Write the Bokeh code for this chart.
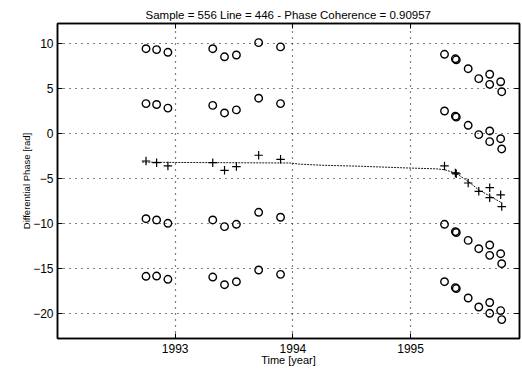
from bokeh.plotting import figure
from bokeh.models import LinearAxis, FixedTicker, Range1d, CustomJSTickFormatter
from bokeh.embed import file_html
from bokeh.resources import INLINE

# ---- data ----
dates = [1992.752, 1992.842, 1992.938, 1993.319, 1993.419, 1993.520, 1993.709, 1993.895,
         1995.288, 1995.380, 1995.388, 1995.489, 1995.579, 1995.672, 1995.672, 1995.765, 1995.774]

# unwrapped differential phase (plus markers)
phase = [-3.08, -3.26, -3.63, -3.26, -4.11, -3.70, -2.44, -2.89,
         -3.63, -4.40, -4.50, -5.52, -6.45, -6.04, -7.15, -6.84, -8.14]

# wrapped phase ambiguity rows (circle markers)
row_a = [9.40, 9.30, 9.00, 9.40, 8.50, 8.70, 10.07, 9.60,
         8.78, 8.28, 8.16, 7.18, 6.07, 6.56, 5.44, 5.73, 4.62]
row_b = [3.30, 3.20, 2.80, 3.10, 2.26, 2.60, 3.90, 3.30,
         2.48, 1.90, 1.80, 0.89, -0.15, 0.26, -0.93, -0.60, -1.74]
row_c = [-9.49, -9.63, -10.00, -9.63, -10.37, -10.11, -8.78, -9.33,
         -10.11, -10.92, -11.02, -11.90, -12.82, -12.41, -13.56, -13.38, -14.49]
row_d = [-15.89, -15.86, -16.22, -15.97, -16.82, -16.49, -15.19, -15.67,
         -16.49, -17.15, -17.25, -18.30, -19.30, -18.80, -20.00, -19.70, -20.70]

# fitted trend line
fit_x = [1992.72, 1993.00, 1993.50, 1993.98, 1994.05, 1994.25, 1994.55, 1994.97,
         1995.22, 1995.29, 1995.38, 1995.49, 1995.58, 1995.67, 1995.77]
fit_y = [-3.20, -3.24, -3.27, -3.30, -3.42, -3.55, -3.65, -3.85,
         -3.95, -4.05, -4.40, -5.35, -6.30, -6.95, -7.70]

x_ticks = [1993, 1994, 1995]
y_ticks = [-20, -15, -10, -5, 0, 5, 10]

title_text = "Sample = 556 Line = 446 - Phase Coherence = 0.90957"
x_label = "Time [year]"
y_label = "Differential Phase [rad]"

FONT = "Liberation Sans"

p = figure(width=522, height=374,
           x_range=Range1d(1992.0, 1995.925), y_range=Range1d(-22.8, 12.2),
           output_backend="svg", toolbar_location=None,
           min_border_left=57, min_border_right=3, min_border_top=23, min_border_bottom=36,
           background_fill_color="white", border_fill_color="white")

p.title.text = title_text
p.title.align = "left"
p.title.offset = 88
p.title.standoff = 5
p.title.text_font = "'Liberation Sans Narrow', 'Liberation Sans', sans-serif"
p.title.text_font_size = "11.5px"
p.title.text_font_style = "normal"
p.title.text_color = "black"

p.outline_line_color = "black"
p.outline_line_width = 1.5

for ax, ticks in ((p.xaxis[0], x_ticks), (p.yaxis[0], y_ticks)):
    ax.ticker = FixedTicker(ticks=ticks)
    ax.major_tick_in = 5
    ax.major_tick_out = 0
    ax.minor_tick_line_color = None
    ax.axis_line_color = "black"
    ax.axis_line_width = 1.5
    ax.major_tick_line_color = "black"
    ax.major_label_text_font = FONT
    ax.major_label_text_font_size = "12px"
    ax.major_label_text_color = "black"
    ax.axis_label_text_font = FONT
    ax.axis_label_text_font_style = "normal"
    ax.axis_label_text_color = "black"

p.xaxis[0].axis_label = x_label
p.xaxis[0].axis_label_text_font_size = "11px"
p.xaxis[0].major_label_standoff = 5
p.xaxis[0].axis_label_standoff = -2
p.yaxis[0].axis_label = y_label
p.yaxis[0].axis_label_text_font_size = "9.5px"
p.yaxis[0].major_label_standoff = 4
p.yaxis[0].axis_label_standoff = -2

blank = CustomJSTickFormatter(code="return ''")
for loc, ticks in (("above", x_ticks), ("right", y_ticks)):
    ax = LinearAxis(ticker=FixedTicker(ticks=ticks), formatter=blank,
                    major_tick_in=5, major_tick_out=0,
                    minor_tick_line_color=None, major_label_standoff=0,
                    axis_line_color="black", axis_line_width=1.5)
    p.add_layout(ax, loc)

p.xgrid.ticker = FixedTicker(ticks=x_ticks)
p.ygrid.ticker = FixedTicker(ticks=y_ticks)
for g in (p.xgrid[0], p.ygrid[0]):
    g.grid_line_color = "black"
    g.grid_line_dash = "1 5"
    g.grid_line_width = 1.2

p.line(fit_x, fit_y, line_color="black", line_width=0.9, line_dash="2 1")

for row in (row_a, row_b, row_c, row_d):
    p.scatter(dates, row, marker="circle", size=7.5, fill_color=None,
              line_color="black", line_width=1.4)

p.scatter(dates, phase, marker="cross", size=8.5, line_color="black", line_width=1.2)

open("out.html", "w").write(file_html(p, INLINE))
